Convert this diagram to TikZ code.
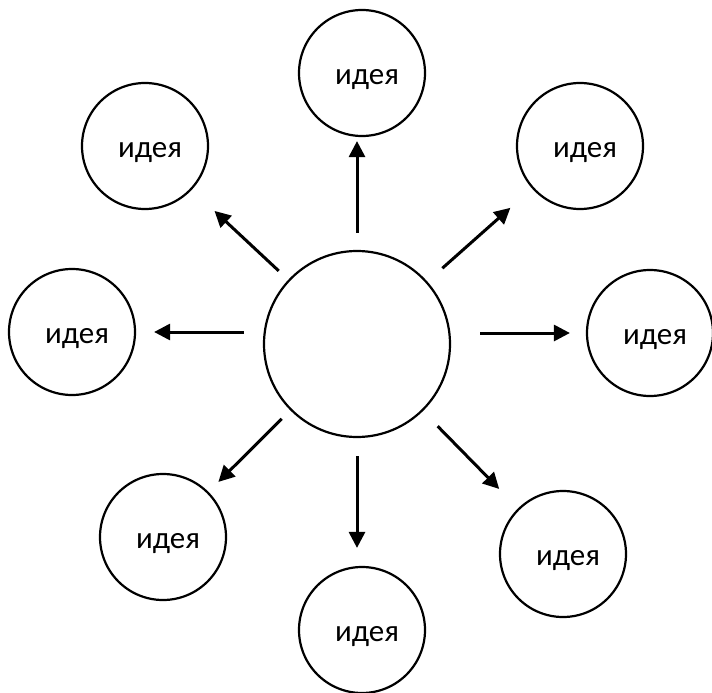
\documentclass[tikz,border=0pt]{standalone}
\usepackage{fontspec}
\setmainfont{Carlito}
\usepackage{tikz}
\usetikzlibrary{arrows.meta,positioning}
\tikzset{
  main_n/.style = {circle, draw=black, line width=2.2pt, minimum size=186pt, inner sep=0pt},
  idea_n/.style = {circle, draw=black, line width=2.2pt, minimum size=126pt, inner sep=0pt,
    label={[font=\fontsize{31}{36}\selectfont, xshift=5pt, yshift=-7pt]center:#1}},
  arr_e/.style = {line width=3pt, -{Triangle[length=16pt,width=16pt]}}
}
\begin{document}
\begin{tikzpicture}[x=1pt,y=-1pt]
  \useasboundingbox (0,0) rectangle (712,693);
  % centre
  \node[main_n] (c) at (357,344) {};
  % ideas round it
  \node[idea_n=идея] (t)  at (362,73)  {};
  \node[idea_n=идея] (tr) at (580,146) {};
  \node[idea_n=идея] (r)  at (650,333) {};
  \node[idea_n=идея] (br) at (563,554) {};
  \node[idea_n=идея] (b)  at (362,630) {};
  \node[idea_n=идея] (bl) at (163,537) {};
  \node[idea_n=идея] (l)  at (72,332)  {};
  \node[idea_n=идея] (tl) at (145,146) {};
  % arrows
  \draw[arr_e, shorten <=17pt, shorten >=4pt]  (c.north) -- (c.north |- t.south);
  \draw[arr_e, shorten <=20pt, shorten >=29pt] (c) -- (tr);
  \draw[arr_e, shorten <=29pt, shorten >=16pt] (r.west -| c.east) -- (r.west);
  \draw[arr_e, shorten <=21pt, shorten >=27pt] (c) -- (br);
  \draw[arr_e, shorten <=18pt, shorten >=18pt] (c.south) -- (c.south |- b.north);
  \draw[arr_e, shorten <=12pt, shorten >=14pt] (c) -- (bl);
  \draw[arr_e, shorten <=19pt, shorten >=18pt] (l.east -| c.west) -- (l.east);
  \draw[arr_e, shorten <=13pt, shorten >=31pt] (c) -- (tl);
\end{tikzpicture}
\end{document}
